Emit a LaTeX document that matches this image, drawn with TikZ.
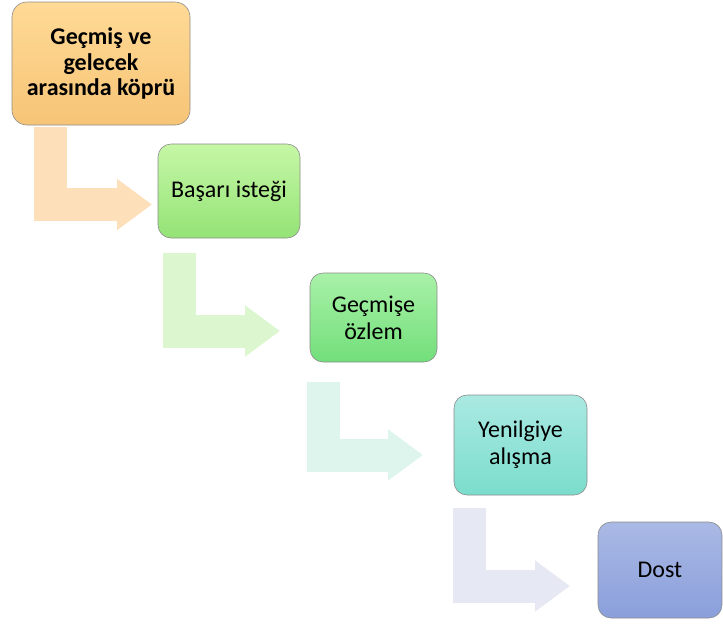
\documentclass[tikz,border=0pt]{standalone}
\usepackage{fontspec}
\setmainfont{Carlito}
\usetikzlibrary{arrows.meta}

\definecolor{bridgetop}{HTML}{FFDA96}
\definecolor{bridgebot}{HTML}{F6C476}
\definecolor{successtop}{HTML}{C6F7A6}
\definecolor{successbot}{HTML}{94E376}
\definecolor{nostalgiatop}{HTML}{A9F1A8}
\definecolor{nostalgiabot}{HTML}{72DF7A}
\definecolor{defeattop}{HTML}{AAE9E2}
\definecolor{defeatbot}{HTML}{7BDDCD}
\definecolor{friendtop}{HTML}{AAB9E4}
\definecolor{friendbot}{HTML}{8A9FDB}

\tikzset{
  stepbox/.style={draw=black!45, line width=0.6pt, rounded corners=13pt,
    align=center, font=\fontsize{24}{27}\selectfont, inner sep=0pt},
  bendarrow/.style={line width=33pt, line join=miter,
    -{Triangle[length=35pt, width=49pt]}}
}

\begin{document}
\begin{tikzpicture}[x=1pt, y=-1pt]

  \useasboundingbox (0, 0) rectangle (723, 630);

  % bent arrows behind the boxes
  \coordinate (bridge-out) at (50.5, 127);
  \coordinate (success-in) at (152, 204.5);
  \coordinate (success-out) at (179.5, 253);
  \coordinate (nostalgia-in) at (280, 331);
  \coordinate (nostalgia-out) at (323, 382);
  \coordinate (defeat-in) at (423, 455);
  \coordinate (defeat-out) at (469.5, 508);
  \coordinate (friend-in) at (570, 586);

  \draw[bendarrow, color={rgb,255:red,253;green,223;blue,185}] (bridge-out) |- (success-in);
  \draw[bendarrow, color={rgb,255:red,220;green,247;blue,208}] (success-out) |- (nostalgia-in);
  \draw[bendarrow, color={rgb,255:red,221;green,245;blue,236}] (nostalgia-out) |- (defeat-in);
  \draw[bendarrow, color={rgb,255:red,230;green,233;blue,244}] (defeat-out) |- (friend-in);

  \node (bridge) at (101, 63.5) [stepbox, rounded corners=15pt, minimum width=178pt, minimum height=123pt,
    top color=bridgetop, bottom color=bridgebot, font=\fontsize{24}{25.5}\selectfont\bfseries]
    {Geçmiş ve\\gelecek\\arasında köprü};

  \node (success) at (229, 191) [stepbox, minimum width=142pt, minimum height=94pt,
    top color=successtop, bottom color=successbot] {Başarı isteği};

  \node (nostalgia) at (373.5, 317.5) [stepbox, minimum width=127pt, minimum height=89pt,
    top color=nostalgiatop, bottom color=nostalgiabot] {Geçmişe\\özlem};

  \node (defeat) at (520.5, 445) [stepbox, minimum width=133pt, minimum height=100pt,
    top color=defeattop, bottom color=defeatbot] {Yenilgiye\\alışma};

  \node (friend) at (660, 570) [stepbox, minimum width=124pt, minimum height=96pt,
    top color=friendtop, bottom color=friendbot] {Dost};

\end{tikzpicture}
\end{document}
